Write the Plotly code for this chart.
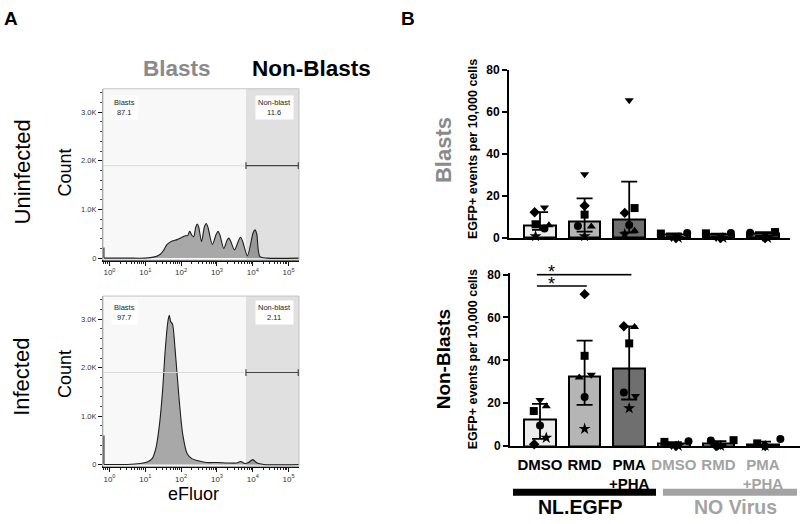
import math
import plotly.graph_objects as go

W, H = 800, 524

# ---------------- Panel A : eFluor histograms (x = log10 decade, y = count in thousands)
UNINF_X = [-0.15, 0.5, 1.0, 1.23, 1.42, 1.51, 1.61, 1.75, 1.89, 2.03, 2.12, 2.18, 2.24, 2.30, 2.35,
           2.41, 2.45, 2.49, 2.57, 2.65, 2.70, 2.75, 2.87, 2.98, 3.03, 3.08, 3.19, 3.28, 3.33, 3.38,
           3.49, 3.61, 3.66, 3.71, 3.85, 4.01, 4.06, 4.11, 4.20, 4.4, 5.29]
UNINF_Y = [0, 0, 0, 0.02, 0.08, 0.16, 0.28, 0.35, 0.38, 0.43, 0.46, 0.46, 0.55, 0.47, 0.44,
           0.64, 0.70, 0.64, 0.34, 0.64, 0.71, 0.63, 0.28, 0.49, 0.55, 0.48, 0.20, 0.36, 0.41, 0.35,
           0.17, 0.37, 0.43, 0.36, 0.05, 0.52, 0.58, 0.50, 0.03, 0, 0]
INF_X = [-0.15, 0.5, 0.86, 1.05, 1.19, 1.30, 1.40, 1.48, 1.56, 1.63, 1.67, 1.71, 1.76, 1.83,
         1.95, 2.05, 2.17, 2.30, 2.45, 2.7, 3.01, 3.3, 3.55, 3.66, 3.78, 3.88, 4.0, 4.12, 4.31, 5.29]
INF_Y = [0, 0, 0.02, 0.05, 0.12, 0.35, 0.85, 1.5, 2.4, 2.95, 3.08, 2.95, 2.9, 2.4,
         1.3, 0.6, 0.22, 0.12, 0.08, 0.04, 0.04, 0.03, 0.03, 0.06, 0.02, 0.04, 0.1, 0.03, 0, 0]
UNINF_EDGE_COUNT = 0.22
INF_EDGE_COUNT = 0.6
GATE_START = 3.81
GATE_LEVEL = 1.9
UNINF_PCT = ["87.1", "11.6"]
INF_PCT = ["97.7", "2.11"]
A_XTICKS = [0, 1, 2, 3, 4, 5]
A_YTICKS = [0, 1, 2, 3]
A_YTICKTEXT = ["0", "1.0K", "2.0K", "3.0K"]

# ---------------- Panel B : EGFP+ events per 10,000 cells
CATEGORIES = ["DMSO", "RMD", "PMA\n+PHA", "DMSO", "RMD", "PMA\n+PHA"]
GROUPS = ["NL.EGFP", "NO Virus"]
SYMBOLS = ["circle", "square", "triangle-up", "triangle-down", "diamond", "star"]

BLAST_MEAN = [6.0, 8.0, 8.8, 1.5, 1.4, 1.9]
BLAST_ERR_UP = [6.3, 10.8, 18.0, 0.7, 0.7, 0.9]
BLAST_ERR_DN = [2.2, 5.0, 6.2, 0.7, 0.7, 0.9]
BLAST_POINTS = {
    "circle":        [4.5, 5.7, 6.2, 2.3, 2.3, 2.5],
    "square":        [6.5, 11.1, 14.2, 2.1, 2.2, 2.8],
    "triangle-up":   [6.0, 5.4, 3.4, 0.0, 0.0, 0.0],
    "triangle-down": [14.5, 30.3, 65.4, 0.0, 0.0, 0.0],
    "diamond":       [12.2, 15.3, 11.9, 0.0, 0.0, 0.0],
    "star":          [0.8, 0.8, 1.8, 0.0, 0.0, 0.0],
}
BLAST_JITTER = {
    "circle":        [0.10, -0.15, 0.00, 0.30, 0.28, -0.29],
    "square":        [-0.10, 0.00, 0.12, -0.29, -0.28, 0.27],
    "triangle-up":   [0.20, 0.15, 0.12, 0.00, 0.00, 0.00],
    "triangle-down": [0.10, 0.00, 0.00, -0.05, -0.05, 0.00],
    "diamond":       [-0.12, 0.00, -0.10, 0.05, 0.05, 0.05],
    "star":          [-0.10, 0.00, -0.10, 0.10, 0.10, 0.10],
}

NONBLAST_MEAN = [12.4, 32.3, 36.0, 1.0, 1.3, 0.8]
NONBLAST_ERR_UP = [7.3, 16.9, 19.8, 0.8, 0.9, 1.2]
NONBLAST_ERR_DN = [9.1, 13.1, 14.3, 0.8, 0.9, 0.8]
NONBLAST_POINTS = {
    "circle":        [9.5, 22.9, 25.0, 2.2, 2.6, 3.2],
    "square":        [16.3, 42.1, 47.9, 1.9, 2.7, 1.2],
    "triangle-up":   [18.6, 32.0, 55.6, 0.0, 0.0, 0.0],
    "triangle-down": [21.5, 33.3, 23.3, 0.0, 0.0, 0.0],
    "diamond":       [0.8, 70.9, 55.9, 0.0, 0.0, 0.0],
    "star":          [3.8, 8.0, 17.6, 0.0, 0.0, 0.0],
}
NONBLAST_JITTER = {
    "circle":        [0.00, 0.00, -0.12, 0.33, -0.17, 0.39],
    "square":        [-0.14, 0.00, 0.00, -0.21, 0.34, -0.13],
    "triangle-up":   [0.14, -0.12, 0.12, 0.00, 0.00, 0.00],
    "triangle-down": [0.00, 0.15, 0.14, -0.05, 0.05, 0.00],
    "diamond":       [-0.13, 0.00, -0.12, 0.05, -0.05, 0.05],
    "star":          [0.14, 0.00, 0.00, 0.10, 0.05, 0.05],
}
SIGNIF = [(0, 2, 80.0), (0, 1, 74.7)]   # (from category, to category, y level)
B_YTICKS = [0, 20, 40, 60, 80]

# ---------------- styling
FONT = "Arial, Liberation Sans, sans-serif"
BAR_COLORS = ["#ececec", "#b5b5b5", "#6f6f6f", "#ececec", "#b5b5b5", "#6f6f6f"]
GRAY_TXT = "#8a8a8a"
NOV_GRAY = "#a3a3a3"


def px(x):
    return x / W


def py(y):
    return 1 - y / H


fig = go.Figure()

# ---- Panel A histograms
a_xrange = [-0.18, 5.29]
a_yrange = [-0.04, 3.48]
for i, (hx, hy, edge) in enumerate([(UNINF_X, UNINF_Y, UNINF_EDGE_COUNT), (INF_X, INF_Y, INF_EDGE_COUNT)]):
    xa = "x" if i == 0 else "x2"
    ya = "y" if i == 0 else "y2"
    fig.add_trace(go.Scatter(x=hx, y=hy, mode="lines", line=dict(shape="spline", smoothing=0.8, color="#1e1e1e", width=1.1),
                             fill="tozeroy", fillcolor="rgba(0,0,0,0.32)", xaxis=xa, yaxis=ya, showlegend=False, hoverinfo="skip"))
    fig.add_trace(go.Scatter(x=[a_xrange[0] + 0.02, a_xrange[0] + 0.02], y=[0, edge], mode="lines",
                             line=dict(color="#1e1e1e", width=1.5), xaxis=xa, yaxis=ya, showlegend=False, hoverinfo="skip"))

minor_vals = [n + math.log10(k) for n in range(-1, 6) for k in range(2, 10)]
minor_vals = [v for v in minor_vals if a_xrange[0] < v < a_xrange[1]]
a_xdomain = [px(103), px(299)]
a_ydomains = [[py(260), py(84)], [py(472), py(297)]]
for i, ydom in enumerate(a_ydomains):
    sfx = "" if i == 0 else "2"
    fig.layout["xaxis" + sfx] = dict(
        domain=a_xdomain, range=a_xrange, anchor="y" + sfx, showgrid=False, zeroline=False,
        showline=True, linecolor="#111", linewidth=1.5, ticks="outside", ticklen=4, tickwidth=1.2,
        tickcolor="#111", tickvals=A_XTICKS, ticktext=["10<sup>%d</sup>" % v for v in A_XTICKS],
        tickfont=dict(family=FONT, size=8, color="#333"),
        minor=dict(tickvals=minor_vals, ticks="outside", ticklen=2, tickwidth=1, tickcolor="#222"))
    fig.layout["yaxis" + sfx] = dict(
        domain=ydom, range=a_yrange, anchor="x" + sfx, showgrid=False, zeroline=False,
        showline=True, linecolor="#888", linewidth=1, ticks="outside", ticklen=4, tickwidth=1.2,
        tickcolor="#111", tickvals=A_YTICKS, ticktext=A_YTICKTEXT,
        tickfont=dict(family=FONT, size=7.5, color="#333"),
        minor=dict(dtick=0.2, ticks="outside", ticklen=2, tickwidth=1, tickcolor="#444"))
    xr, yr = "x" + sfx, "y" + sfx
    # backgrounds
    fig.add_shape(type="rect", xref=xr, yref=yr + " domain", x0=a_xrange[0], x1=GATE_START, y0=0, y1=1,
                  fillcolor="#f8f8f8", line=dict(width=0), layer="below")
    fig.add_shape(type="rect", xref=xr, yref=yr + " domain", x0=GATE_START, x1=a_xrange[1], y0=0, y1=1,
                  fillcolor="#e0e0e0", line=dict(width=0), layer="below")
    fig.add_shape(type="rect", xref=xr + " domain", yref=yr + " domain", x0=0, x1=1, y0=0, y1=1,
                  line=dict(color="#c4c4c4", width=1), layer="above")
    # gate
    fig.add_shape(type="line", xref=xr, yref=yr, x0=a_xrange[0], x1=GATE_START - 0.05, y0=GATE_LEVEL, y1=GATE_LEVEL,
                  line=dict(color="rgba(215,215,215,0.9)", width=1), layer="above")
    fig.add_shape(type="line", xref=xr, yref=yr, x0=GATE_START, x1=a_xrange[1] - 0.02, y0=GATE_LEVEL, y1=GATE_LEVEL,
                  line=dict(color="#444", width=1.2), layer="above")
    for gx in (GATE_START, a_xrange[1] - 0.02):
        fig.add_shape(type="line", xref=xr, yref=yr, x0=gx, x1=gx, y0=GATE_LEVEL - 0.07, y1=GATE_LEVEL + 0.07,
                      line=dict(color="#444", width=1.2), layer="above")
    pct = UNINF_PCT if i == 0 else INF_PCT
    ylab = 3.1 if i == 0 else 3.15
    fig.add_annotation(xref=xr, yref=yr, x=0.41, y=ylab, text="Blasts<br>" + pct[0], showarrow=False,
                       font=dict(family=FONT, size=7.5, color="#222"), bgcolor="white", borderpad=2)
    fig.add_annotation(xref=xr, yref=yr, x=4.61, y=ylab, text="Non-blast<br>" + pct[1], showarrow=False,
                       font=dict(family=FONT, size=7.5, color="#222"), bgcolor="white", borderpad=2)

# ---- Panel B
b_specs = [
    dict(sfx="3", xdom=[px(509), px(790)], xrange=[-0.695, 5.605], ydom=[py(237.3), py(64.3)], yr=[0, 80],
         mean=BLAST_MEAN, up=BLAST_ERR_UP, dn=BLAST_ERR_DN, pts=BLAST_POINTS, jit=BLAST_JITTER, labels=False),
    dict(sfx="4", xdom=[px(510), px(800)], xrange=[-0.673, 5.83], ydom=[py(451), py(273.7)], yr=[0, 80.6],
         mean=NONBLAST_MEAN, up=NONBLAST_ERR_UP, dn=NONBLAST_ERR_DN, pts=NONBLAST_POINTS, jit=NONBLAST_JITTER, labels=True),
]
cat_idx = list(range(len(CATEGORIES)))
ticktext = []
for i, c in enumerate(CATEGORIES):
    parts = c.split("\n")
    if i >= 3:
        ticktext.append("<br>".join("<span style='color:%s'>%s</span>" % (NOV_GRAY, p) for p in parts))
    else:
        ticktext.append("<br>".join(parts))

for s in b_specs:
    xa, ya = "x" + s["sfx"], "y" + s["sfx"]
    fig.add_trace(go.Bar(x=cat_idx, y=s["mean"], width=0.71, xaxis=xa, yaxis=ya, showlegend=False,
                         marker=dict(color=BAR_COLORS, line=dict(color="black", width=2)),
                         error_y=dict(type="data", symmetric=False, array=s["up"], arrayminus=s["dn"],
                                      color="black", thickness=1.8, width=8), hoverinfo="skip"))
    for sym in SYMBOLS:
        xs = [c + j for c, j in zip(cat_idx, s["jit"][sym])]
        fig.add_trace(go.Scatter(x=xs, y=s["pts"][sym], mode="markers", xaxis=xa, yaxis=ya, showlegend=False,
                                 cliponaxis=False, hoverinfo="skip",
                                 marker=dict(symbol=sym, size=8 if sym != "star" else 9, color="black", line=dict(width=0))))
    fig.layout["xaxis" + s["sfx"]] = dict(
        domain=s["xdom"], range=s["xrange"], anchor=ya, showgrid=False, zeroline=False, showline=True,
        linecolor="black", linewidth=2, ticks="", tickvals=cat_idx, ticktext=ticktext, tickangle=0,
        ticklabelstandoff=4,
        showticklabels=s["labels"], tickfont=dict(family=FONT, size=15, color="black", weight="bold"))
    fig.layout["yaxis" + s["sfx"]] = dict(
        domain=s["ydom"], range=s["yr"], anchor=xa, showgrid=False, zeroline=False, showline=True,
        linecolor="black", linewidth=2, ticks="outside", ticklen=5, tickwidth=2, tickcolor="black",
        tickvals=B_YTICKS, tickfont=dict(family=FONT, size=12, color="black", weight="bold"))

for x0, x1, yv in SIGNIF:
    fig.add_shape(type="line", xref="x4", yref="y4", x0=x0 - 0.07, x1=x1 + 0.05, y0=yv, y1=yv,
                  line=dict(color="black", width=1.6))
    fig.add_annotation(xref="x4", yref="y4", x=x0 + 0.25, y=yv, text="*", showarrow=False, yanchor="middle",
                       height=12, valign="top", yshift=6.5, font=dict(family=FONT, size=18, color="black"))

# group bars
fig.add_shape(type="line", xref="paper", yref="paper", x0=px(513), x1=px(656), y0=py(498.5), y1=py(498.5),
              line=dict(color="black", width=7))
fig.add_shape(type="line", xref="paper", yref="paper", x0=px(663), x1=px(797), y0=py(498.5), y1=py(498.5),
              line=dict(color=NOV_GRAY, width=7))


def text(x, y, t, size, color="black", bold=False, angle=0):
    fig.add_annotation(xref="paper", yref="paper", x=px(x), y=py(y), text=t, showarrow=False,
                       textangle=angle, xanchor="center", yanchor="middle",
                       font=dict(family=FONT, size=size, color=color, weight="bold" if bold else "normal"))


text(580, 514, GROUPS[0], 19.5, "black", True)
text(735, 514, GROUPS[1], 19.5, NOV_GRAY, True)

# panel letters & titles
text(11, 12, "A", 19, bold=True)
text(408, 12, "B", 19, bold=True)
text(177, 63, "Blasts", 22.5, GRAY_TXT, True)
text(311, 63, "Non-Blasts", 22.5, "black", True)
text(22, 170, "Uninfected", 22, angle=-90)
text(22, 380, "Infected", 22, angle=-90)
text(65, 170, "Count", 18, angle=-90)
text(65, 377, "Count", 18, angle=-90)
text(193, 500, "eFluor", 18)
text(443, 147, "Blasts", 22, GRAY_TXT, True, -90)
text(443, 362, "Non-Blasts", 19, "black", True, -90)
text(473, 146, "EGFP+ events per 10,000 cells", 12.5, "black", True, -90)
text(473, 362, "EGFP+ events per 10,000 cells", 12.5, "black", True, -90)

fig.update_layout(width=W, height=H, margin=dict(l=0, r=0, t=0, b=0), plot_bgcolor="white",
                  paper_bgcolor="white", showlegend=False, bargap=0,
                  font=dict(family=FONT))

fig.write_html("out.html", config={"displayModeBar": False},
               post_script="document.body.style.margin='0';")
